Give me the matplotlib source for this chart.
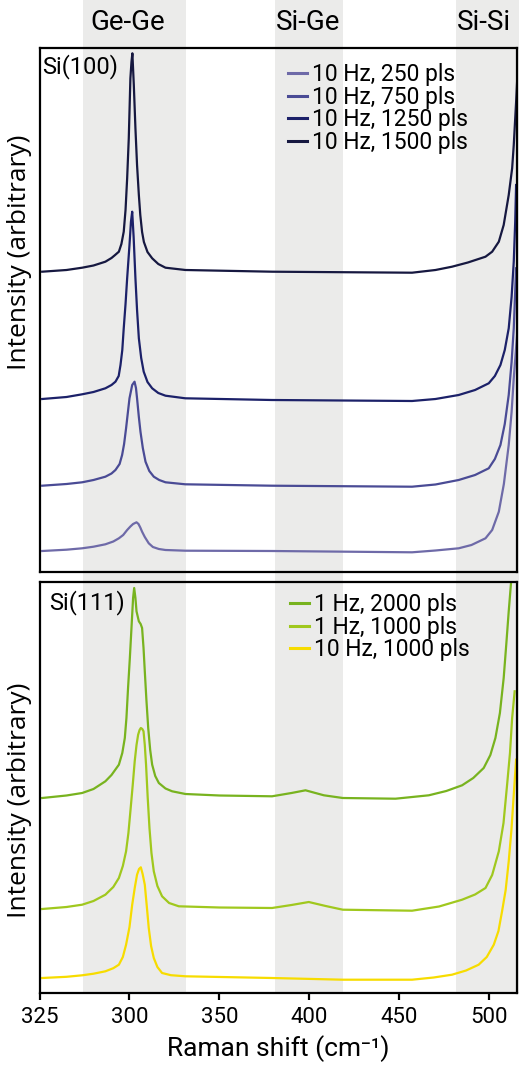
import matplotlib
matplotlib.use("Agg")
from matplotlib import pyplot as plt

plt.rcParams['font.family'] = ['Roboto', 'DejaVu Sans']

# bandas (cm-1) e rótulos
bandas = [(274.1, 331.3), (380.7, 418.5), (481.3, 520.0)]
nomes_bandas = ['Ge-Ge', 'Si-Ge', 'Si-Si']
pos_nomes = [299.0, 399.0, 497.0]

ticks = [250, 300, 350, 400, 450, 500]
rotulos_ticks = ['325', '300', '350', '400', '450', '500']

# Si(100) - espectros (intensidade arbitrária)
x_250 = [251.5, 265, 273.7, 280, 286.6, 291, 294.1, 296.5, 298.7, 300.5, 302, 303.9, 305, 306, 307,
         308.5, 310.7, 313, 316.3, 320, 331, 379, 457, 470, 482.9, 490, 497.8, 501.5, 505.2, 508,
         510.7, 512.3, 513.5, 515.5]
y_250 = [21, 22.3, 23.7, 25.3, 27.7, 30.5, 33.7, 37, 42, 45.5, 48, 49.7, 48, 44.5, 40.3,
         35, 28.7, 25, 23, 22, 21.3, 21, 19.7, 21.5, 23.7, 27, 33.7, 42, 60.3, 88,
         127, 160, 193.7, 240.3]

x_750 = [251.5, 265, 273.7, 280, 286.6, 290, 292.2, 294.5, 295.9, 297, 298.1, 299, 300, 301.5, 302.8,
         303.6, 304.2, 305.2, 306.1, 307.4, 308.9, 311, 313.5, 316.5, 320, 331, 379, 457, 470,
         482.9, 492, 499.6, 503, 506.1, 508.5, 510.7, 512.3, 513.5, 514.8]
y_750 = [86.3, 88, 89.7, 92, 95.3, 98.5, 102, 108, 117, 128, 143.7, 158, 173.7, 187, 190.3,
         184, 173.7, 155, 140.3, 124, 110.3, 101, 95.3, 92, 89.7, 87.7, 86.3, 85.3, 87.5,
         92, 97, 103.7, 113, 127, 148, 177, 210, 243.7, 303.7]

x_1250 = [251.5, 265, 273.7, 280, 286.6, 290, 292.2, 294, 295, 296, 296.8, 297.8, 298.7, 300, 300.8,
          301.5, 302.3, 303.3, 304.2, 305.2, 306.5, 307.9, 310, 312.6, 316, 320, 331, 379, 457,
          470, 482.9, 492, 499.6, 503, 506.1, 508.5, 510.7, 512.3, 513.5, 514.3, 514.8]
y_1250 = [173, 175, 177.7, 180, 183.7, 187, 190.3, 196, 207, 222, 243.7, 268, 293.7, 327, 350,
          360.3, 335, 293.7, 262, 233.7, 214, 200.3, 190, 183.7, 179, 176.3, 173.7, 172, 171,
          173, 177, 182, 188.7, 196, 207, 222, 243.7, 275, 310.3, 350, 387]

x_1500 = [251.5, 265, 273.7, 280, 286.6, 290, 292, 294.1, 295.5, 296.8, 297.8, 298.7, 299.6, 300.5,
          301.1, 301.6, 302.4, 303.3, 304.2, 305.2, 306, 307, 308, 310, 312.6, 316, 320, 331.1,
          379.2, 457, 470, 479.2, 488, 497.8, 501.5, 505.2, 507.9, 510.7, 512.6, 513.5, 514.8,
          515.9]
y_1500 = [300.3, 302, 304.3, 306.5, 310.3, 314, 317, 320.3, 328, 340.3, 362, 393.7, 433.7, 493.7,
          510, 518.7, 487, 443.7, 407, 377, 357, 340, 330, 320, 313.7, 308, 304.3, 302,
          300.3, 299.3, 302, 305.3, 309.5, 315.3, 320.3, 330.3, 347, 377, 403.7, 427, 470,
          510]

# Si(111)
x_2000 = [251.5, 265, 273.7, 280, 286.6, 290, 294.1, 296, 297.4, 298.3, 299.2, 300.2, 301.1, 302,
          302.6, 303.3, 303.9, 305.2, 306.2, 307, 307.8, 308.5, 309.4, 310.4, 311.5, 312.6, 314.3,
          316.3, 320, 323.7, 331.1, 350, 379.2, 390, 397.8, 408, 418.5, 447.8, 466.3, 476, 484.8,
          491, 496.8, 500.5, 503.3, 505.8, 507.9, 509.4, 510.7, 512.2]
y_2000 = [195, 197.5, 200, 204, 211.7, 218, 228.3, 240, 255, 275, 305, 335, 365, 395,
          405, 395, 381.7, 371.7, 369, 365, 345, 321.7, 293, 265, 243, 228.3, 217,
          210, 204.5, 201.7, 199, 197.5, 196.7, 200, 202.7, 197.7, 195, 194.3, 197.7, 202, 207.7,
          215, 225, 238, 255, 280, 315, 350, 381.7, 415]

x_1000 = [251.5, 265, 273.7, 280, 286.6, 291, 294.1, 296.3, 298.1, 299.4, 300.5, 301.8, 302.9, 303.9,
          304.8, 305.6, 306.3, 307.1, 307.8, 308.5, 309.2, 310.1, 311.1, 312.2, 313.5, 315.5, 318.1,
          322, 327.4, 350, 379.2, 390, 399.6, 409, 418.5, 457, 472, 484.8, 492, 497.8, 501.5,
          505.2, 507.8, 509.8, 511.4, 512.6, 514.0]
y_1000 = [84, 86, 88.3, 92, 98.3, 106, 115, 127, 141.7, 160, 181.7, 208, 231.7, 248,
          258.3, 263, 265, 264, 261.7, 248, 228.3, 196, 165, 140, 121.7, 107, 96.7,
          90, 86.7, 85.5, 85, 88, 91, 87, 83.3, 82.3, 86.5, 93.3, 98.5, 105, 118,
          141.7, 170, 208.3, 240, 275, 301.7]

x_10hz = [251.5, 265, 273.7, 280, 286.6, 291, 294.1, 296.3, 298.1, 300, 301.5, 303, 304.2, 305.3,
          306.3, 307.3, 308.5, 309.6, 310.7, 312, 313.5, 315.5, 318.1, 323, 331.1, 379.2, 418.5,
          457, 469, 479.2, 487, 494, 498.5, 502.4, 505, 507, 509, 510.7, 512.2, 513.5, 514.8]
y_10hz = [15, 16.2, 17.7, 19.3, 21.7, 24.8, 28.3, 36, 48.3, 66, 88.3, 106, 118.3, 124,
          125.7, 119, 108.3, 87, 65, 47, 35, 26, 20, 17.8, 16.7, 15, 13.3,
          13.3, 15.5, 18.3, 22.5, 28.3, 36, 48.3, 62, 81.7, 103, 131.7, 163, 198.3, 233.3]

W, H = 519, 1068
fig = plt.figure(figsize=(W / 100, H / 100), dpi=100)

x0, x1 = 39.5, 517.0
xmin, xmax = 250.0, 515.3
escala = (x1 - x0) / (xmax - xmin)

# eixo de fundo com as bandas (figura inteira até a base do painel inferior)
fundo = fig.add_axes([0, (H - 993) / H, 1, 993 / H], zorder=0)
fundo.set_xlim(xmin - x0 / escala, xmax + (W - x1) / escala)
fundo.set_ylim(0, 993)
fundo.axis('off')
for (a, b), nome, p in zip(bandas, nomes_bandas, pos_nomes):
    fundo.axvspan(a, b, color='#ebebea', lw=0)
    fundo.text(p, 993 - 22, nome, ha='center', va='center', fontsize=20)

ax1 = fig.add_axes([x0 / W, (H - 572) / H, (x1 - x0) / W, 524 / H], zorder=1)
ax2 = fig.add_axes([x0 / W, (H - 993) / H, (x1 - x0) / W, 411 / H], zorder=1)

cores1 = ['#6e6aa8', '#4a4b95', '#1c2169', '#161840']
dados1 = [(x_250, y_250, '10 Hz, 250 pls'), (x_750, y_750, '10 Hz, 750 pls'),
          (x_1250, y_1250, '10 Hz, 1250 pls'), (x_1500, y_1500, '10 Hz, 1500 pls')]
for (x, y, lab), c in zip(dados1, cores1):
    ax1.plot(x, y, color=c, lw=1.6, label=lab, solid_joinstyle='round')

cores2 = ['#78b31f', '#a0c81e', '#f7dc00']
dados2 = [(x_2000, y_2000, '1 Hz, 2000 pls'), (x_1000, y_1000, '1 Hz, 1000 pls'),
          (x_10hz, y_10hz, '10 Hz, 1000 pls')]
for (x, y, lab), c in zip(dados2, cores2):
    ax2.plot(x, y, color=c, lw=1.6, label=lab, solid_joinstyle='round')

ax1.set_ylim(0, 524)
ax2.set_ylim(0, 411)
for ax in (ax1, ax2):
    ax.set_facecolor('none')
    ax.set_xlim(xmin, xmax)
    ax.set_yticks([])
    for s in ax.spines.values():
        s.set_linewidth(1.6)
    ax.set_ylabel('Intensity (arbitrary)', fontsize=19, family=['Open Sans', 'DejaVu Sans'])

ax1.set_xticks([])
ax2.set_xticks(ticks)
ax2.set_xticklabels(rotulos_ticks)
ax2.tick_params(axis='x', direction='out', length=5, width=1.6, labelsize=16, pad=5)
ax2.set_xlabel('Raman shift (cm⁻¹)', fontsize=19, labelpad=5)

ax1.yaxis.set_label_coords(-0.016, 0.61)
ax2.yaxis.set_label_coords(-0.016, 0.47)

ax1.text(0.006, 0.988, 'Si(100)', transform=ax1.transAxes, ha='left', va='top', fontsize=17)
ax2.text(0.02, 0.98, 'Si(111)', transform=ax2.transAxes, ha='left', va='top', fontsize=17)

leg_kw = dict(frameon=False, fontsize=16.5, labelspacing=-0.02, handlelength=0.85,
              handletextpad=0.2, borderpad=0, borderaxespad=0, loc='upper left')
ax1.legend(bbox_to_anchor=(288 / W, (H - 63) / H), bbox_transform=fig.transFigure, **leg_kw)
ax2.legend(bbox_to_anchor=(290 / W, (H - 593) / H), bbox_transform=fig.transFigure, **leg_kw)
for leg in (ax1.get_legend(), ax2.get_legend()):
    for ln in leg.get_lines():
        ln.set_linewidth(2.2)

fig.savefig('out.png', dpi=100)
